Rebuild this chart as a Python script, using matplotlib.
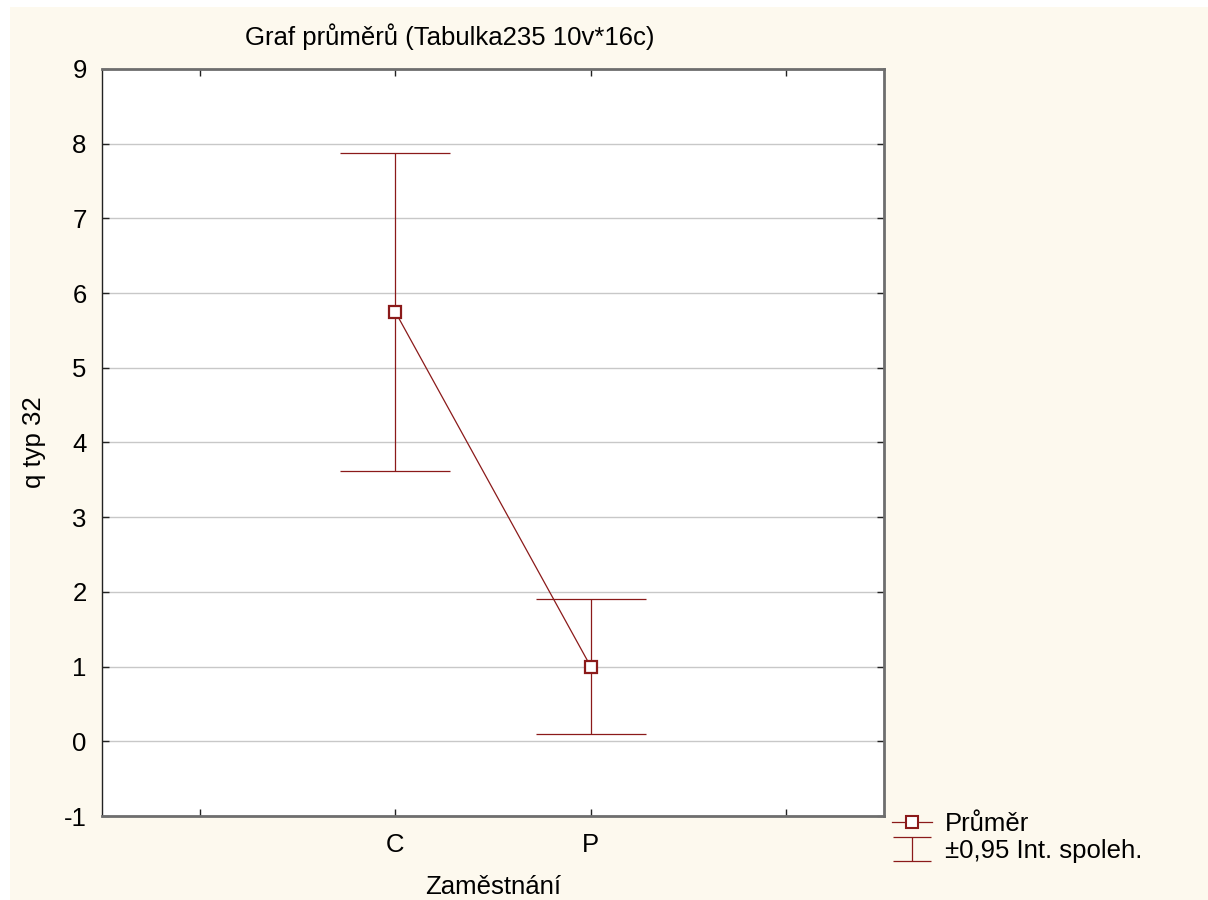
import matplotlib
matplotlib.use('Agg')
import matplotlib.pyplot as plt
from matplotlib.lines import Line2D
from matplotlib.path import Path
from matplotlib.patches import Rectangle
import numpy as np

plt.rcParams['font.family'] = ['Liberation Sans', 'DejaVu Sans']
plt.rcParams['axes.unicode_minus'] = False

# data
kategorie = ['C', 'P']
prumer = [5.75, 1.0]
ci_dolni = [3.62, 0.10]
ci_horni = [7.88, 1.90]

barva = '#8b1a1a'
krem = '#fdf9ee'
fs = 18.5

fig = plt.figure(figsize=(12.08, 9.0), dpi=100, facecolor='white')
fig.patches.append(Rectangle((10 / 1208, 0), 1, 1 - 7 / 900, transform=fig.transFigure,
                             facecolor=krem, edgecolor='none', zorder=-10))

ax = fig.add_axes([102 / 1208, 1 - 816 / 900, (884 - 102) / 1208, (816 - 69) / 900])
ax.set_facecolor('white')

x = np.arange(len(kategorie))
prumer = np.array(prumer)
yerr = [prumer - np.array(ci_dolni), np.array(ci_horni) - prumer]

ax.errorbar(x, prumer, yerr=yerr, fmt='none', ecolor=barva, elinewidth=0.9,
            capsize=39.5, capthick=0.9, zorder=3)
ax.plot(x, prumer, color=barva, lw=0.9, marker='s', markersize=8.8,
        markerfacecolor='white', markeredgecolor=barva, markeredgewidth=1.6, zorder=4)

ax.set_xlim(-1.5, 2.5)
ax.set_ylim(-1, 9)
ax.set_xticks([-1, 0, 1, 2])
ax.set_xticklabels([''] + kategorie + [''])
ax.set_yticks(range(-1, 10))
ax.yaxis.grid(True, color='#c8c8c8', lw=1)
ax.set_axisbelow(True)

ax.tick_params(direction='in', length=5, width=1, labelsize=fs, color='#222222',
               top=True, right=True)
ax.tick_params(axis='x', pad=12.5)
ax.tick_params(axis='y', pad=11)

for s in ['left']:
    ax.spines[s].set_color('#222222')
    ax.spines[s].set_linewidth(1.0)
for s in ['top', 'right', 'bottom']:
    ax.spines[s].set_color('#6e6e6e')
    ax.spines[s].set_linewidth(2.0)

ax.set_xlabel('Zaměstnání', fontsize=fs, labelpad=13)
ax.set_ylabel('q typ 32', fontsize=fs, labelpad=12.5)

fig.text(450 / 1208, 1 - 37 / 900, 'Graf průměrů (Tabulka235 10v*16c)', fontsize=fs,
         ha='center', va='center')

# legenda
ibeam = Path([(-1, 0.62), (1, 0.62), (0, 0.62), (0, -0.62), (-1, -0.62), (1, -0.62)],
             [Path.MOVETO, Path.LINETO, Path.MOVETO, Path.LINETO, Path.MOVETO, Path.LINETO])
h1 = Line2D([], [], color=barva, lw=0.9, marker='s', markersize=8.5,
            markerfacecolor='white', markeredgecolor=barva, markeredgewidth=1.5)
h2 = Line2D([], [], color=barva, lw=0, marker=ibeam, markersize=28,
            markerfacecolor='none', markeredgecolor=barva, markeredgewidth=0.9)
fig.legend([h1, h2], ['Průměr', '±0,95 Int. spoleh.'], loc='upper left',
           bbox_to_anchor=(874 / 1208, 1 - 794 / 900), frameon=False, fontsize=fs,
           handlelength=1.55, handletextpad=0.5, labelspacing=0.1, borderpad=0.2)

fig.savefig('out.png', dpi=100, facecolor=fig.get_facecolor())
